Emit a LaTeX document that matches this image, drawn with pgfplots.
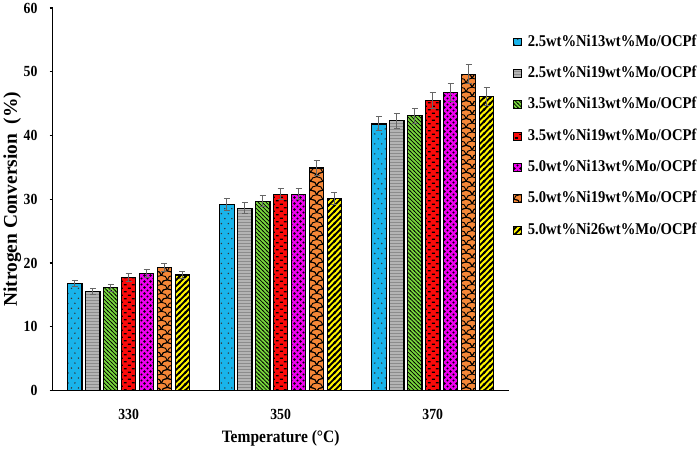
\documentclass[border=0pt]{standalone}
\usepackage{pgfplots}
\pgfplotsset{compat=1.18}
\usepackage{fontspec}
\setmainfont{Liberation Serif}
\newfontfamily\cond{Liberation Serif}[FakeStretch=0.89]
\usetikzlibrary{patterns}

\definecolor{cblue}{RGB}{25,180,235}
\definecolor{cgray}{RGB}{140,140,140}
\definecolor{cgreen}{RGB}{120,215,60}
\definecolor{cred}{RGB}{250,10,10}
\definecolor{cmag}{RGB}{240,0,240}
\definecolor{corange}{RGB}{245,135,55}
\definecolor{cyellow}{RGB}{255,245,0}

\pgfdeclarepatternformonly{sdots}{\pgfqpoint{-1pt}{-1pt}}{\pgfqpoint{8pt}{11pt}}{\pgfqpoint{7pt}{10pt}}{%
 \pgfpathcircle{\pgfqpoint{1.75pt}{2.5pt}}{0.8pt}%
 \pgfpathcircle{\pgfqpoint{5.25pt}{7.5pt}}{0.8pt}%
 \pgfusepath{fill}}
\pgfdeclarepatternformonly{hl}{\pgfqpoint{0pt}{0pt}}{\pgfqpoint{3pt}{2.5pt}}{\pgfqpoint{3pt}{2.5pt}}{%
 \pgfsetlinewidth{0.8pt}%
 \pgfpathmoveto{\pgfqpoint{0pt}{1.25pt}}\pgfpathlineto{\pgfqpoint{3pt}{1.25pt}}\pgfusepath{stroke}}
\pgfdeclarepatternformonly{nwl}{\pgfqpoint{-1pt}{-1pt}}{\pgfqpoint{5pt}{5pt}}{\pgfqpoint{4pt}{4pt}}{%
 \pgfsetlinewidth{0.7pt}%
 \pgfpathmoveto{\pgfqpoint{-0.5pt}{4.5pt}}\pgfpathlineto{\pgfqpoint{4.5pt}{-0.5pt}}\pgfusepath{stroke}}
\pgfdeclarepatternformonly{dash}{\pgfqpoint{0pt}{0pt}}{\pgfqpoint{8pt}{7pt}}{\pgfqpoint{8pt}{7pt}}{%
 \pgfsetlinewidth{1.4pt}%
 \pgfpathmoveto{\pgfqpoint{0.8pt}{1.75pt}}\pgfpathlineto{\pgfqpoint{3.8pt}{1.75pt}}%
 \pgfpathmoveto{\pgfqpoint{4.8pt}{5.25pt}}\pgfpathlineto{\pgfqpoint{7.8pt}{5.25pt}}\pgfusepath{stroke}}
\pgfdeclarepatternformonly{blobs}{\pgfqpoint{0pt}{0pt}}{\pgfqpoint{6pt}{6pt}}{\pgfqpoint{6pt}{6pt}}{%
 \pgfpathcircle{\pgfqpoint{1.5pt}{1.5pt}}{1.3pt}%
 \pgfpathcircle{\pgfqpoint{4.5pt}{4.5pt}}{1.1pt}%
 \pgfusepath{fill}}
\pgfdeclarepatternformonly{scales}{\pgfqpoint{-6pt}{-1pt}}{\pgfqpoint{18pt}{11pt}}{\pgfqpoint{12pt}{9pt}}{%
 \pgfsetlinewidth{0.9pt}%
 \pgfpathmoveto{\pgfqpoint{0pt}{0pt}}\pgfpathcurveto{\pgfqpoint{0pt}{6pt}}{\pgfqpoint{12pt}{6pt}}{\pgfqpoint{12pt}{0pt}}%
 \pgfpathmoveto{\pgfqpoint{-6pt}{4.5pt}}\pgfpathcurveto{\pgfqpoint{-6pt}{10.5pt}}{\pgfqpoint{6pt}{10.5pt}}{\pgfqpoint{6pt}{4.5pt}}%
 \pgfpathmoveto{\pgfqpoint{6pt}{4.5pt}}\pgfpathcurveto{\pgfqpoint{6pt}{10.5pt}}{\pgfqpoint{18pt}{10.5pt}}{\pgfqpoint{18pt}{4.5pt}}%
 \pgfusepath{stroke}}
\pgfdeclarepatternformonly{thick}{\pgfqpoint{-1pt}{-1pt}}{\pgfqpoint{7pt}{7pt}}{\pgfqpoint{6pt}{6pt}}{%
 \pgfsetlinewidth{1.8pt}%
 \pgfpathmoveto{\pgfqpoint{-1pt}{-1pt}}\pgfpathlineto{\pgfqpoint{7pt}{7pt}}%
 \pgfpathmoveto{\pgfqpoint{-1pt}{5pt}}\pgfpathlineto{\pgfqpoint{1pt}{7pt}}%
 \pgfpathmoveto{\pgfqpoint{5pt}{-1pt}}\pgfpathlineto{\pgfqpoint{7pt}{1pt}}%
 \pgfusepath{stroke}}

\pgfplotsset{
 mybar/.style n args={3}{fill=#1, draw=black, line width=1.2pt,
   postaction={pattern=#2, pattern color=#3},
   legend image code/.code={\draw[##1,line width=0.8pt] (0pt,-4pt) rectangle (8pt,4pt);}},
}

\begin{document}
\begin{tikzpicture}
\begin{axis}[
 width=458pt, height=384pt, scale only axis,
 xmin=-0.5, xmax=2.5, ymin=0, ymax=60,
 ybar=3.5pt, bar width=14.5pt,
 axis x line*=bottom, axis y line*=left,
 axis line style={line width=1.5pt,-},
 xtick={0,1,2}, xticklabels={330,350,370},
 ytick={0,10,...,60},
 x tick style={draw=none},
 y tick style={line width=1.2pt, black},
 tick align=outside, major tick length=3pt,
 /pgf/number format/assume math mode=true,
 ticklabel style={font=\cond\fontsize{15.5}{17}\selectfont\bfseries},
 xticklabel style={anchor=base, yshift=-26pt},
 yticklabel style={anchor=east, inner sep=0pt, xshift=-12pt},
 xlabel={Temperature (°C)},
 ylabel={Nitrogen Conversion\ \ (\%)},
 xlabel style={at={(axis description cs:0.5,-0.125)}, anchor=center, font=\cond\fontsize{17.5}{20}\selectfont\bfseries},
 ylabel style={at={(axis description cs:-0.0885,0.5)}, anchor=center, font=\fontsize{19.5}{22}\selectfont\bfseries},
 error bars/y dir=both, error bars/y explicit,
 error bars/error bar style={line width=1pt, draw=black!60},
 error bars/error mark options={rotate=90, mark size=3pt, line width=1pt, draw=black!60},
 legend cell align=left,
 legend style={at={(axis description cs:1.009,0.932)}, anchor=north west,
   draw=none, fill=none, inner sep=0pt,
   font=\cond\fontsize{16.5}{18}\selectfont\bfseries,
   nodes={inner sep=0pt, text height=12pt, text depth=3.5pt},
   row sep=16pt,
   /tikz/every odd column/.append style={column sep=6pt}},
]
\addplot+[mybar={cblue}{sdots}{black!80}] coordinates {(0,16.8) +- (0,0.5) (1,29.2) +- (0,0.9) (2,41.8) +- (0,1.1)};
\addplot+[mybar={cgray}{hl}{white}] coordinates {(0,15.5) +- (0,0.5) (1,28.6) +- (0,0.9) (2,42.3) +- (0,1.2)};
\addplot+[mybar={cgreen}{nwl}{black}] coordinates {(0,16.1) +- (0,0.5) (1,29.7) +- (0,0.9) (2,43.1) +- (0,1.2)};
\addplot+[mybar={cred}{dash}{black}] coordinates {(0,17.7) +- (0,0.6) (1,30.8) +- (0,0.9) (2,45.5) +- (0,1.3)};
\addplot+[mybar={cmag}{blobs}{black}] coordinates {(0,18.3) +- (0,0.6) (1,30.8) +- (0,0.9) (2,46.8) +- (0,1.4)};
\addplot+[mybar={corange}{scales}{black}] coordinates {(0,19.3) +- (0,0.6) (1,34.9) +- (0,1.2) (2,49.6) +- (0,1.5)};
\addplot+[mybar={cyellow}{thick}{black}] coordinates {(0,18.1) +- (0,0.6) (1,30.1) +- (0,0.9) (2,46.1) +- (0,1.4)};
\legend{2.5wt\%Ni13wt\%Mo/OCPf,2.5wt\%Ni19wt\%Mo/OCPf,3.5wt\%Ni13wt\%Mo/OCPf,3.5wt\%Ni19wt\%Mo/OCPf,5.0wt\%Ni13wt\%Mo/OCPf,5.0wt\%Ni19wt\%Mo/OCPf,5.0wt\%Ni26wt\%Mo/OCPf}
\coordinate (bl) at (rel axis cs:0,0);
\end{axis}
\path (bl) ++(-50pt,-60pt) rectangle ++(699pt,452pt);
\end{tikzpicture}
\end{document}
